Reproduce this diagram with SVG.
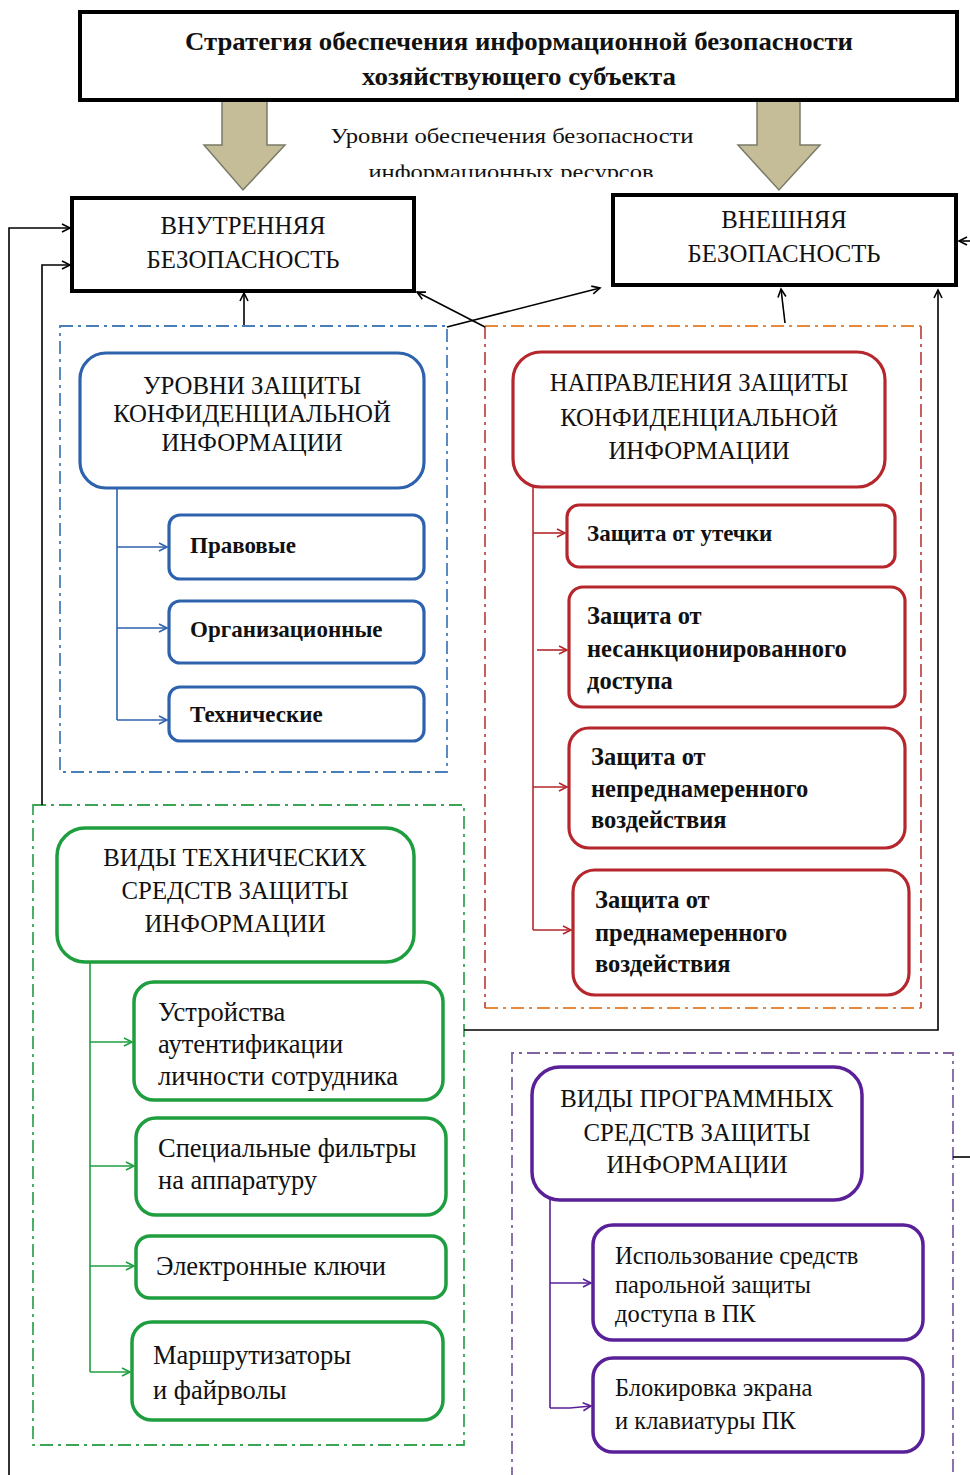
<svg xmlns="http://www.w3.org/2000/svg" width="970" height="1475" viewBox="0 0 970 1475">
<defs>
<style>
.t{font-family:"Liberation Serif","Times New Roman",serif;fill:#111}
.title{font-size:26px;font-weight:bold}
.sub{font-size:21px}
.hd{font-size:24.8px;text-anchor:middle}
.ib{font-size:23px;font-weight:bold}
.ir{font-size:24.5px;font-weight:bold}
.ig{font-size:26.5px}
.ip{font-size:24.5px}
.main{fill:#fff;stroke:#000;stroke-width:4}
.blk{fill:#c4bd97;stroke:#7a7a68;stroke-width:1.5}
.con{fill:none;stroke:#000;stroke-width:1.6}
.cb{fill:none;stroke:#2e62ad;stroke-width:1.6}
.cr{fill:none;stroke:#b5272d;stroke-width:1.6}
.cg{fill:none;stroke:#1f9e3f;stroke-width:1.6}
.cp{fill:none;stroke:#5a2098;stroke-width:1.6}
.dash{fill:none;stroke-width:1.8;stroke-dasharray:13 5 3 5}
.nb{fill:#fff;stroke:#2e62ad;stroke-width:3.2}
.nr{fill:#fff;stroke:#b5272d;stroke-width:3.2}
.ng{fill:#fff;stroke:#1f9e3f;stroke-width:3.5}
.np{fill:#fff;stroke:#5a2098;stroke-width:3.5}
</style>
<marker id="ak" markerUnits="userSpaceOnUse" markerWidth="12" markerHeight="12" refX="9" refY="5" orient="auto"><path d="M1,1 L9,5 L1,9" fill="none" stroke="#000" stroke-width="1.6"/></marker>
<marker id="ab" markerUnits="userSpaceOnUse" markerWidth="12" markerHeight="12" refX="9" refY="5" orient="auto"><path d="M1,1 L9,5 L1,9" fill="none" stroke="#2e62ad" stroke-width="1.6"/></marker>
<marker id="ar" markerUnits="userSpaceOnUse" markerWidth="12" markerHeight="12" refX="9" refY="5" orient="auto"><path d="M1,1 L9,5 L1,9" fill="none" stroke="#b5272d" stroke-width="1.6"/></marker>
<marker id="ag" markerUnits="userSpaceOnUse" markerWidth="12" markerHeight="12" refX="9" refY="5" orient="auto"><path d="M1,1 L9,5 L1,9" fill="none" stroke="#1f9e3f" stroke-width="1.6"/></marker>
<marker id="ap" markerUnits="userSpaceOnUse" markerWidth="12" markerHeight="12" refX="9" refY="5" orient="auto"><path d="M1,1 L9,5 L1,9" fill="none" stroke="#5a2098" stroke-width="1.6"/></marker>
<clipPath id="subclip"><rect x="0" y="100" width="970" height="77"/></clipPath>
</defs>
<rect width="970" height="1475" fill="#fff"/>

<g id="block-arrows">
<polygon class="blk" points="222,100 267,100 267,145 285,145 243,190 204,145 222,145"/>
<polygon class="blk" points="757,100 800,100 800,145 820,145 779,190 738,145 757,145"/>
</g>

<g id="strategy">
<rect class="main" x="80" y="12" width="877" height="88"/>
<text class="t title" x="519" y="50" text-anchor="middle" textLength="668" lengthAdjust="spacingAndGlyphs">Стратегия обеспечения информационной безопасности</text>
<text class="t title" x="519" y="85" text-anchor="middle" textLength="314" lengthAdjust="spacingAndGlyphs">хозяйствующего субъекта</text>
</g>

<g id="levels-label" clip-path="url(#subclip)">
<text class="t sub" x="512" y="143" text-anchor="middle" textLength="363" lengthAdjust="spacingAndGlyphs">Уровни обеспечения безопасности</text>
<text class="t sub" x="511" y="179" text-anchor="middle" textLength="285" lengthAdjust="spacingAndGlyphs">информационных ресурсов</text>
</g>

<g id="groups">
<rect class="dash" x="60" y="326" width="387" height="446" stroke="#4a7ebb"/>
<line class="dash" x1="485" y1="326" x2="921" y2="326" stroke="#e8883a"/>
<line class="dash" x1="485" y1="1008" x2="921" y2="1008" stroke="#e8883a"/>
<line class="dash" x1="485" y1="326" x2="485" y2="1008" stroke="#c0504d"/>
<line class="dash" x1="921" y1="326" x2="921" y2="1008" stroke="#c0504d"/>
<rect class="dash" x="33" y="805" width="431" height="640" stroke="#3aa655"/>
<path class="dash" d="M512,1480 L512,1053 L953,1053 L953,1480" stroke="#8064a2"/>
</g>

<g id="connectors">
<polyline class="con" points="9,1475 9,228 70,228" marker-end="url(#ak)"/>
<polyline class="con" points="42,805 42,265 70,265" marker-end="url(#ak)"/>
<line class="con" x1="244" y1="325" x2="244" y2="293" marker-end="url(#ak)"/>
<line class="con" x1="785" y1="323" x2="781" y2="289" marker-end="url(#ak)"/>
<line class="con" x1="485" y1="327" x2="417" y2="292" marker-end="url(#ak)"/>
<line class="con" x1="447" y1="327" x2="600" y2="288" marker-end="url(#ak)"/>
<polyline class="con" points="464,1030 938,1030 938,290" marker-end="url(#ak)"/>
<line class="con" x1="970" y1="241" x2="959" y2="241" marker-end="url(#ak)"/>
<line class="con" x1="953" y1="1157" x2="970" y2="1157"/>

<line class="cb" x1="117" y1="488" x2="117" y2="720"/>
<line class="cb" x1="117" y1="547" x2="167" y2="547" marker-end="url(#ab)"/>
<line class="cb" x1="117" y1="628" x2="167" y2="628" marker-end="url(#ab)"/>
<line class="cb" x1="117" y1="720" x2="167" y2="720" marker-end="url(#ab)"/>

<line class="cr" x1="533" y1="487" x2="533" y2="930"/>
<line class="cr" x1="533" y1="533" x2="565" y2="533" marker-end="url(#ar)"/>
<line class="cr" x1="537" y1="650" x2="567" y2="650" marker-end="url(#ar)"/>
<line class="cr" x1="533" y1="787" x2="567" y2="787" marker-end="url(#ar)"/>
<line class="cr" x1="533" y1="930" x2="571" y2="930" marker-end="url(#ar)"/>

<line class="cg" x1="90" y1="962" x2="90" y2="1372"/>
<line class="cg" x1="90" y1="1042" x2="132" y2="1042" marker-end="url(#ag)"/>
<line class="cg" x1="90" y1="1166" x2="134" y2="1166" marker-end="url(#ag)"/>
<line class="cg" x1="90" y1="1266" x2="134" y2="1266" marker-end="url(#ag)"/>
<line class="cg" x1="90" y1="1372" x2="130" y2="1372" marker-end="url(#ag)"/>

<line class="cp" x1="550" y1="1200" x2="550" y2="1408"/>
<line class="cp" x1="550" y1="1283" x2="591" y2="1283" marker-end="url(#ap)"/>
<polyline class="cp" points="550,1408 570,1408 591,1406" marker-end="url(#ap)"/>
</g>

<g id="internal">
<rect class="main" x="72" y="198" width="342" height="93"/>
<text class="t hd" x="243" y="234">ВНУТРЕННЯЯ</text>
<text class="t hd" x="243" y="268">БЕЗОПАСНОСТЬ</text>
</g>
<g id="external">
<rect class="main" x="613" y="195" width="343" height="90"/>
<text class="t hd" x="784" y="228">ВНЕШНЯЯ</text>
<text class="t hd" x="784" y="262">БЕЗОПАСНОСТЬ</text>
</g>

<g id="levels-header">
<rect class="nb" x="80" y="353" width="344" height="135" rx="26"/>
<text class="t hd" x="252" y="394">УРОВНИ ЗАЩИТЫ</text>
<text class="t hd" x="252" y="422">КОНФИДЕНЦИАЛЬНОЙ</text>
<text class="t hd" x="252" y="451">ИНФОРМАЦИИ</text>
</g>
<g id="legal"><rect class="nb" x="169" y="515" width="255" height="64" rx="11"/><text class="t ib" x="190" y="553">Правовые</text></g>
<g id="organizational"><rect class="nb" x="169" y="601" width="255" height="62" rx="11"/><text class="t ib" x="190" y="637">Организационные</text></g>
<g id="technical"><rect class="nb" x="169" y="687" width="255" height="54" rx="11"/><text class="t ib" x="190" y="722">Технические</text></g>

<g id="directions-header">
<rect class="nr" x="513" y="352" width="372" height="135" rx="28"/>
<text class="t hd" x="699" y="391">НАПРАВЛЕНИЯ ЗАЩИТЫ</text>
<text class="t hd" x="699" y="426">КОНФИДЕНЦИАЛЬНОЙ</text>
<text class="t hd" x="699" y="459">ИНФОРМАЦИИ</text>
</g>
<g id="leak"><rect class="nr" x="567" y="505" width="328" height="62" rx="12"/><text class="t ir" x="587" y="541" style="font-size:23px">Защита от утечки</text></g>
<g id="unauthorized"><rect class="nr" x="569" y="587" width="336" height="120" rx="14"/>
<text class="t ir" x="587" y="624">Защита от</text>
<text class="t ir" x="587" y="657">несанкционированного</text>
<text class="t ir" x="587" y="689">доступа</text></g>
<g id="unintentional"><rect class="nr" x="569" y="728" width="336" height="120" rx="20"/>
<text class="t ir" x="591" y="765">Защита от</text>
<text class="t ir" x="591" y="797">непреднамеренного</text>
<text class="t ir" x="591" y="828">воздействия</text></g>
<g id="intentional"><rect class="nr" x="573" y="870" width="336" height="125" rx="22"/>
<text class="t ir" x="595" y="908">Защита от</text>
<text class="t ir" x="595" y="941">преднамеренного</text>
<text class="t ir" x="595" y="972">воздействия</text></g>

<g id="tech-header">
<rect class="ng" x="57" y="828" width="357" height="134" rx="28"/>
<text class="t hd" x="235" y="866">ВИДЫ ТЕХНИЧЕСКИХ</text>
<text class="t hd" x="235" y="899">СРЕДСТВ ЗАЩИТЫ</text>
<text class="t hd" x="235" y="932">ИНФОРМАЦИИ</text>
</g>
<g id="auth"><rect class="ng" x="134" y="982" width="309" height="118" rx="20"/>
<text class="t ig" x="158" y="1021">Устройства</text>
<text class="t ig" x="158" y="1053">аутентификации</text>
<text class="t ig" x="158" y="1085">личности сотрудника</text></g>
<g id="filters"><rect class="ng" x="136" y="1118" width="310" height="97" rx="20"/>
<text class="t ig" x="158" y="1157">Специальные фильтры</text>
<text class="t ig" x="158" y="1189">на аппаратуру</text></g>
<g id="keys"><rect class="ng" x="136" y="1236" width="310" height="62" rx="14"/>
<text class="t ig" x="156" y="1275">Электронные ключи</text></g>
<g id="routers"><rect class="ng" x="132" y="1322" width="311" height="98" rx="20"/>
<text class="t ig" x="153" y="1364">Маршрутизаторы</text>
<text class="t ig" x="153" y="1399">и файрволы</text></g>

<g id="soft-header">
<rect class="np" x="532" y="1067" width="330" height="133" rx="28"/>
<text class="t hd" x="697" y="1107">ВИДЫ ПРОГРАММНЫХ</text>
<text class="t hd" x="697" y="1141">СРЕДСТВ ЗАЩИТЫ</text>
<text class="t hd" x="697" y="1173">ИНФОРМАЦИИ</text>
</g>
<g id="password"><rect class="np" x="593" y="1225" width="330" height="115" rx="20"/>
<text class="t ip" x="615" y="1264">Использование средств</text>
<text class="t ip" x="615" y="1293">парольной защиты</text>
<text class="t ip" x="615" y="1322">доступа в ПК</text></g>
<g id="lock"><rect class="np" x="593" y="1358" width="330" height="94" rx="20"/>
<text class="t ip" x="615" y="1396">Блокировка экрана</text>
<text class="t ip" x="615" y="1429">и клавиатуры ПК</text></g>
</svg>
